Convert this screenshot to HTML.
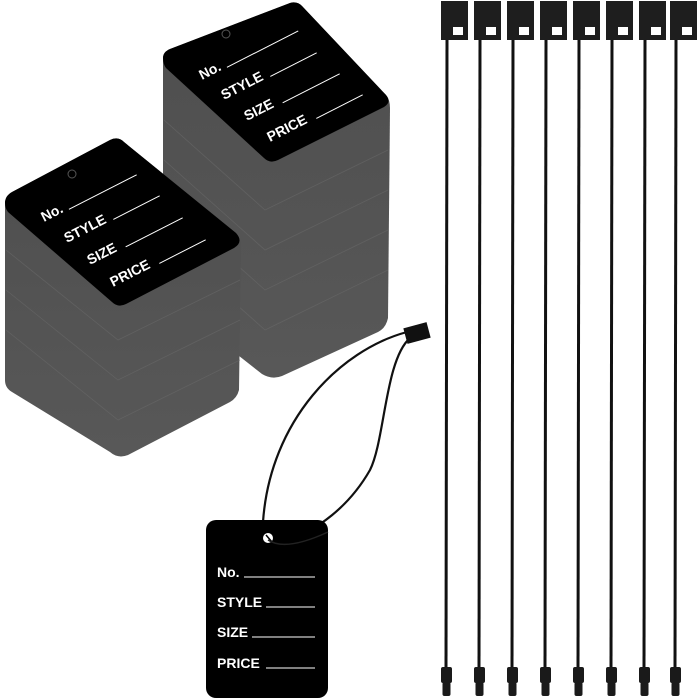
<!DOCTYPE html>
<html><head><style>html,body{margin:0;padding:0;background:#fff}svg{display:block}</style></head>
<body>
<svg width="700" height="700" viewBox="0 0 700 700" xmlns="http://www.w3.org/2000/svg" font-family="Liberation Sans, sans-serif" font-weight="bold">
<defs>
<linearGradient id="g" x1="0" y1="0" x2="0" y2="1"><stop offset="0" stop-color="#4e4e4e"/><stop offset="1" stop-color="#585858"/></linearGradient>
</defs>
<!-- right stack -->
<path d="M163,58 Q163,52 170,49 L290,3 Q297,1 302,6 L386,95 Q390,100 390,108 L388,318 Q386,328 378,332 L282,376 Q272,380 262,374 L168,300 Q163,295 163,288 Z" fill="url(#g)"/>
<g stroke="#6a6a6a" stroke-width="0.8" fill="none" opacity="0.6">
<path d="M164,120 L265,210 L388,150"/><path d="M164,160 L265,250 L388,190"/><path d="M164,200 L265,290 L388,230"/><path d="M164,240 L265,330 L388,270"/>
</g>
<path d="M163,58 Q163,52 170,49 L290,3 Q297,1 302,6 L386,95 Q392,102 384,107 L278,160 Q270,164 264,158 L166,68 Q163,64 163,58 Z" fill="#000"/>
<circle cx="226" cy="34" r="4" fill="none" stroke="#555" stroke-width="1"/>
<g fill="#fff" font-size="14" transform="translate(202,80) rotate(-27)">
<text x="0" y="0">No.</text><line x1="28" y1="0" x2="108" y2="0" stroke="#fff" stroke-width="1"/>
</g>
<g fill="#fff" font-size="14" transform="translate(224,100) rotate(-27)">
<text x="0" y="0">STYLE</text><line x1="52" y1="0" x2="104" y2="0" stroke="#fff" stroke-width="1"/>
</g>
<g fill="#fff" font-size="14" transform="translate(247,121) rotate(-27)">
<text x="0" y="0">SIZE</text><line x1="40" y1="0" x2="104" y2="0" stroke="#fff" stroke-width="1"/>
</g>
<g fill="#fff" font-size="14" transform="translate(270,142) rotate(-27)">
<text x="0" y="0">PRICE</text><line x1="52" y1="0" x2="104" y2="0" stroke="#fff" stroke-width="1"/>
</g>
<!-- left stack -->
<path d="M5,203 Q5,196 12,192 L110,140 Q118,136 124,142 L236,233 Q241,238 241,246 L239,390 Q237,398 230,402 L128,455 Q118,459 110,452 L12,392 Q5,388 5,380 Z" fill="url(#g)"/>
<g stroke="#6a6a6a" stroke-width="0.8" fill="none" opacity="0.6">
<path d="M6,250 L118,340 L240,280"/><path d="M6,290 L118,380 L240,320"/><path d="M6,330 L118,420 L240,360"/>
</g>
<path d="M5,203 Q5,196 12,192 L110,140 Q118,136 124,142 L236,233 Q244,242 234,248 L126,304 Q118,308 112,302 L8,212 Q5,208 5,203 Z" fill="#000"/>
<circle cx="72" cy="174" r="4" fill="none" stroke="#555" stroke-width="1"/>
<g fill="#fff" font-size="14" transform="translate(44,222) rotate(-27)">
<text x="0" y="0">No.</text><line x1="28" y1="0" x2="104" y2="0" stroke="#fff" stroke-width="1"/>
</g>
<g fill="#fff" font-size="14" transform="translate(67,243) rotate(-27)">
<text x="0" y="0">STYLE</text><line x1="52" y1="0" x2="104" y2="0" stroke="#fff" stroke-width="1"/>
</g>
<g fill="#fff" font-size="14" transform="translate(90,265) rotate(-27)">
<text x="0" y="0">SIZE</text><line x1="40" y1="0" x2="104" y2="0" stroke="#fff" stroke-width="1"/>
</g>
<g fill="#fff" font-size="14" transform="translate(113,287) rotate(-27)">
<text x="0" y="0">PRICE</text><line x1="52" y1="0" x2="104" y2="0" stroke="#fff" stroke-width="1"/>
</g>
<!-- front tag string -->
<path d="M407,332 C340,350 270,420 263,522" stroke="#111" stroke-width="2.2" fill="none"/>
<path d="M410,338 C385,360 385,440 370,470 C350,505 320,530 275,547" stroke="#111" stroke-width="2.2" fill="none"/>
<rect x="405" y="325" width="24" height="16" fill="#111" transform="rotate(-15 417 333)"/>
<!-- front tag -->
<rect x="206" y="520" width="122" height="178" rx="10" fill="#000"/>
<circle cx="268" cy="538" r="5" fill="#fff"/>
<path d="M266,535 L272,542" stroke="#000" stroke-width="1.5"/>
<path d="M268,540 C280,548 300,545 328,532" stroke="#222" stroke-width="1.5" fill="none"/>
<g fill="#fff" font-size="14">
<text x="217" y="577">No.</text><line x1="244" y1="577" x2="315" y2="577" stroke="#fff" stroke-width="1"/>
<text x="217" y="607">STYLE</text><line x1="266" y1="607" x2="315" y2="607" stroke="#fff" stroke-width="1"/>
<text x="217" y="637">SIZE</text><line x1="252" y1="637" x2="315" y2="637" stroke="#fff" stroke-width="1"/>
<text x="217" y="668">PRICE</text><line x1="266" y1="668" x2="315" y2="668" stroke="#fff" stroke-width="1"/>
</g>
<!-- fasteners -->
<g id="f">
<line x1="447" y1="40" x2="446" y2="668" stroke="#111" stroke-width="3"/>
<rect x="441" y="1" width="27" height="39" fill="#1e1e1e"/>
<rect x="453" y="27" width="10" height="8" fill="#fff"/>
<rect x="441" y="667" width="11" height="16" rx="2" fill="#1a1a1a"/>
<rect x="442.5" y="682" width="8" height="14" rx="2" fill="#1a1a1a"/>
</g>
<use href="#f" x="33"/><use href="#f" x="66"/><use href="#f" x="99"/><use href="#f" x="132"/><use href="#f" x="165"/><use href="#f" x="198"/><use href="#f" x="229"/>
</svg>
</body></html>
